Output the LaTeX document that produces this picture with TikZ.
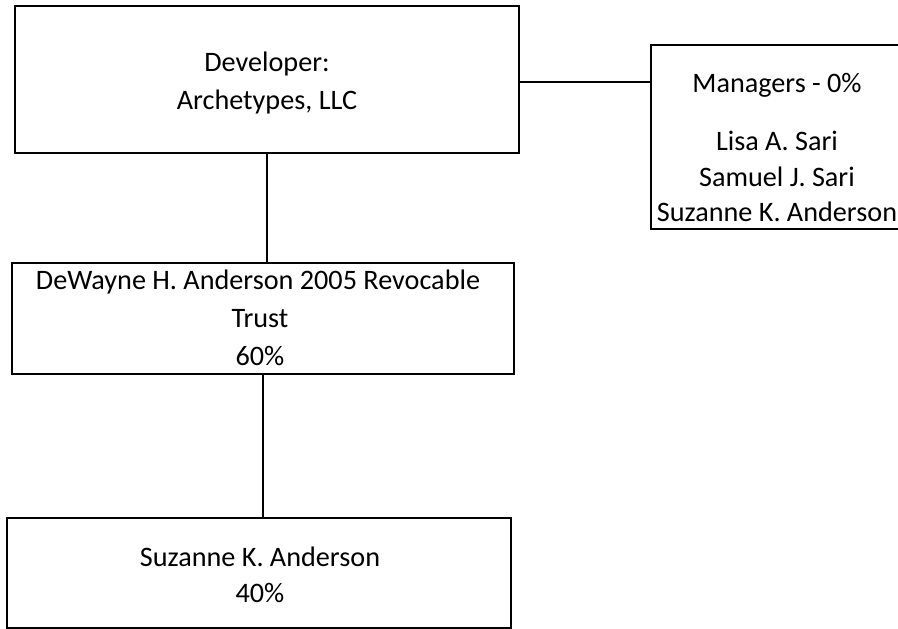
\documentclass[tikz,border=0pt]{standalone}
\usepackage{fontspec}
\setmainfont{Carlito}
\begin{document}
\begin{tikzpicture}[x=1pt,y=-1pt,
  box/.style={draw=black, line width=1.6pt, inner sep=0pt, rectangle},
  txt/.style={inner sep=0pt, font=\fontsize{28.2}{33}\selectfont, text=black},
  conn/.style={draw=black, line width=1.6pt}]
\useasboundingbox (0,0) rectangle (898,629);
% boxes
\node[box, minimum width=504pt, minimum height=147pt] (dev) at (267,79.5) {};
\node[box, minimum width=249pt, minimum height=184pt] (mgr) at (775.5,137) {};
\node[box, minimum width=502pt, minimum height=111pt] (trust) at (263,318.5) {};
\node[box, minimum width=504pt, minimum height=110pt] (suz) at (259,573) {};
% texts
\node[txt] (t1) at (267,64) {Developer:};
\node[txt] (t2) at (267,102) {Archetypes, LLC};
\node[txt] (m1) at (777,85) {Managers - 0\%};
\node[txt] (m2) at (777,141) {Lisa A. Sari};
\node[txt] (m3) at (777,177) {Samuel J. Sari};
\node[txt] (m4) at (777,212) {Suzanne K. Anderson};
\node[txt] (r1) at (258,282) {DeWayne H. Anderson 2005 Revocable};
\node[txt] (r2) at (260,319) {Trust};
\node[txt] (r3) at (260,356) {60\%};
\node[txt] (s1) at (260,557) {Suzanne K. Anderson};
\node[txt] (s2) at (260,593) {40\%};
% connectors
\draw[conn] ([yshift=-2.5pt]dev.east) -- ([yshift=-2.5pt]dev.east -| mgr.west);
\draw[conn] (dev.south) -- (dev.south |- trust.north);
\draw[conn] (trust.south) -- (trust.south |- suz.north);
\end{tikzpicture}
\end{document}
